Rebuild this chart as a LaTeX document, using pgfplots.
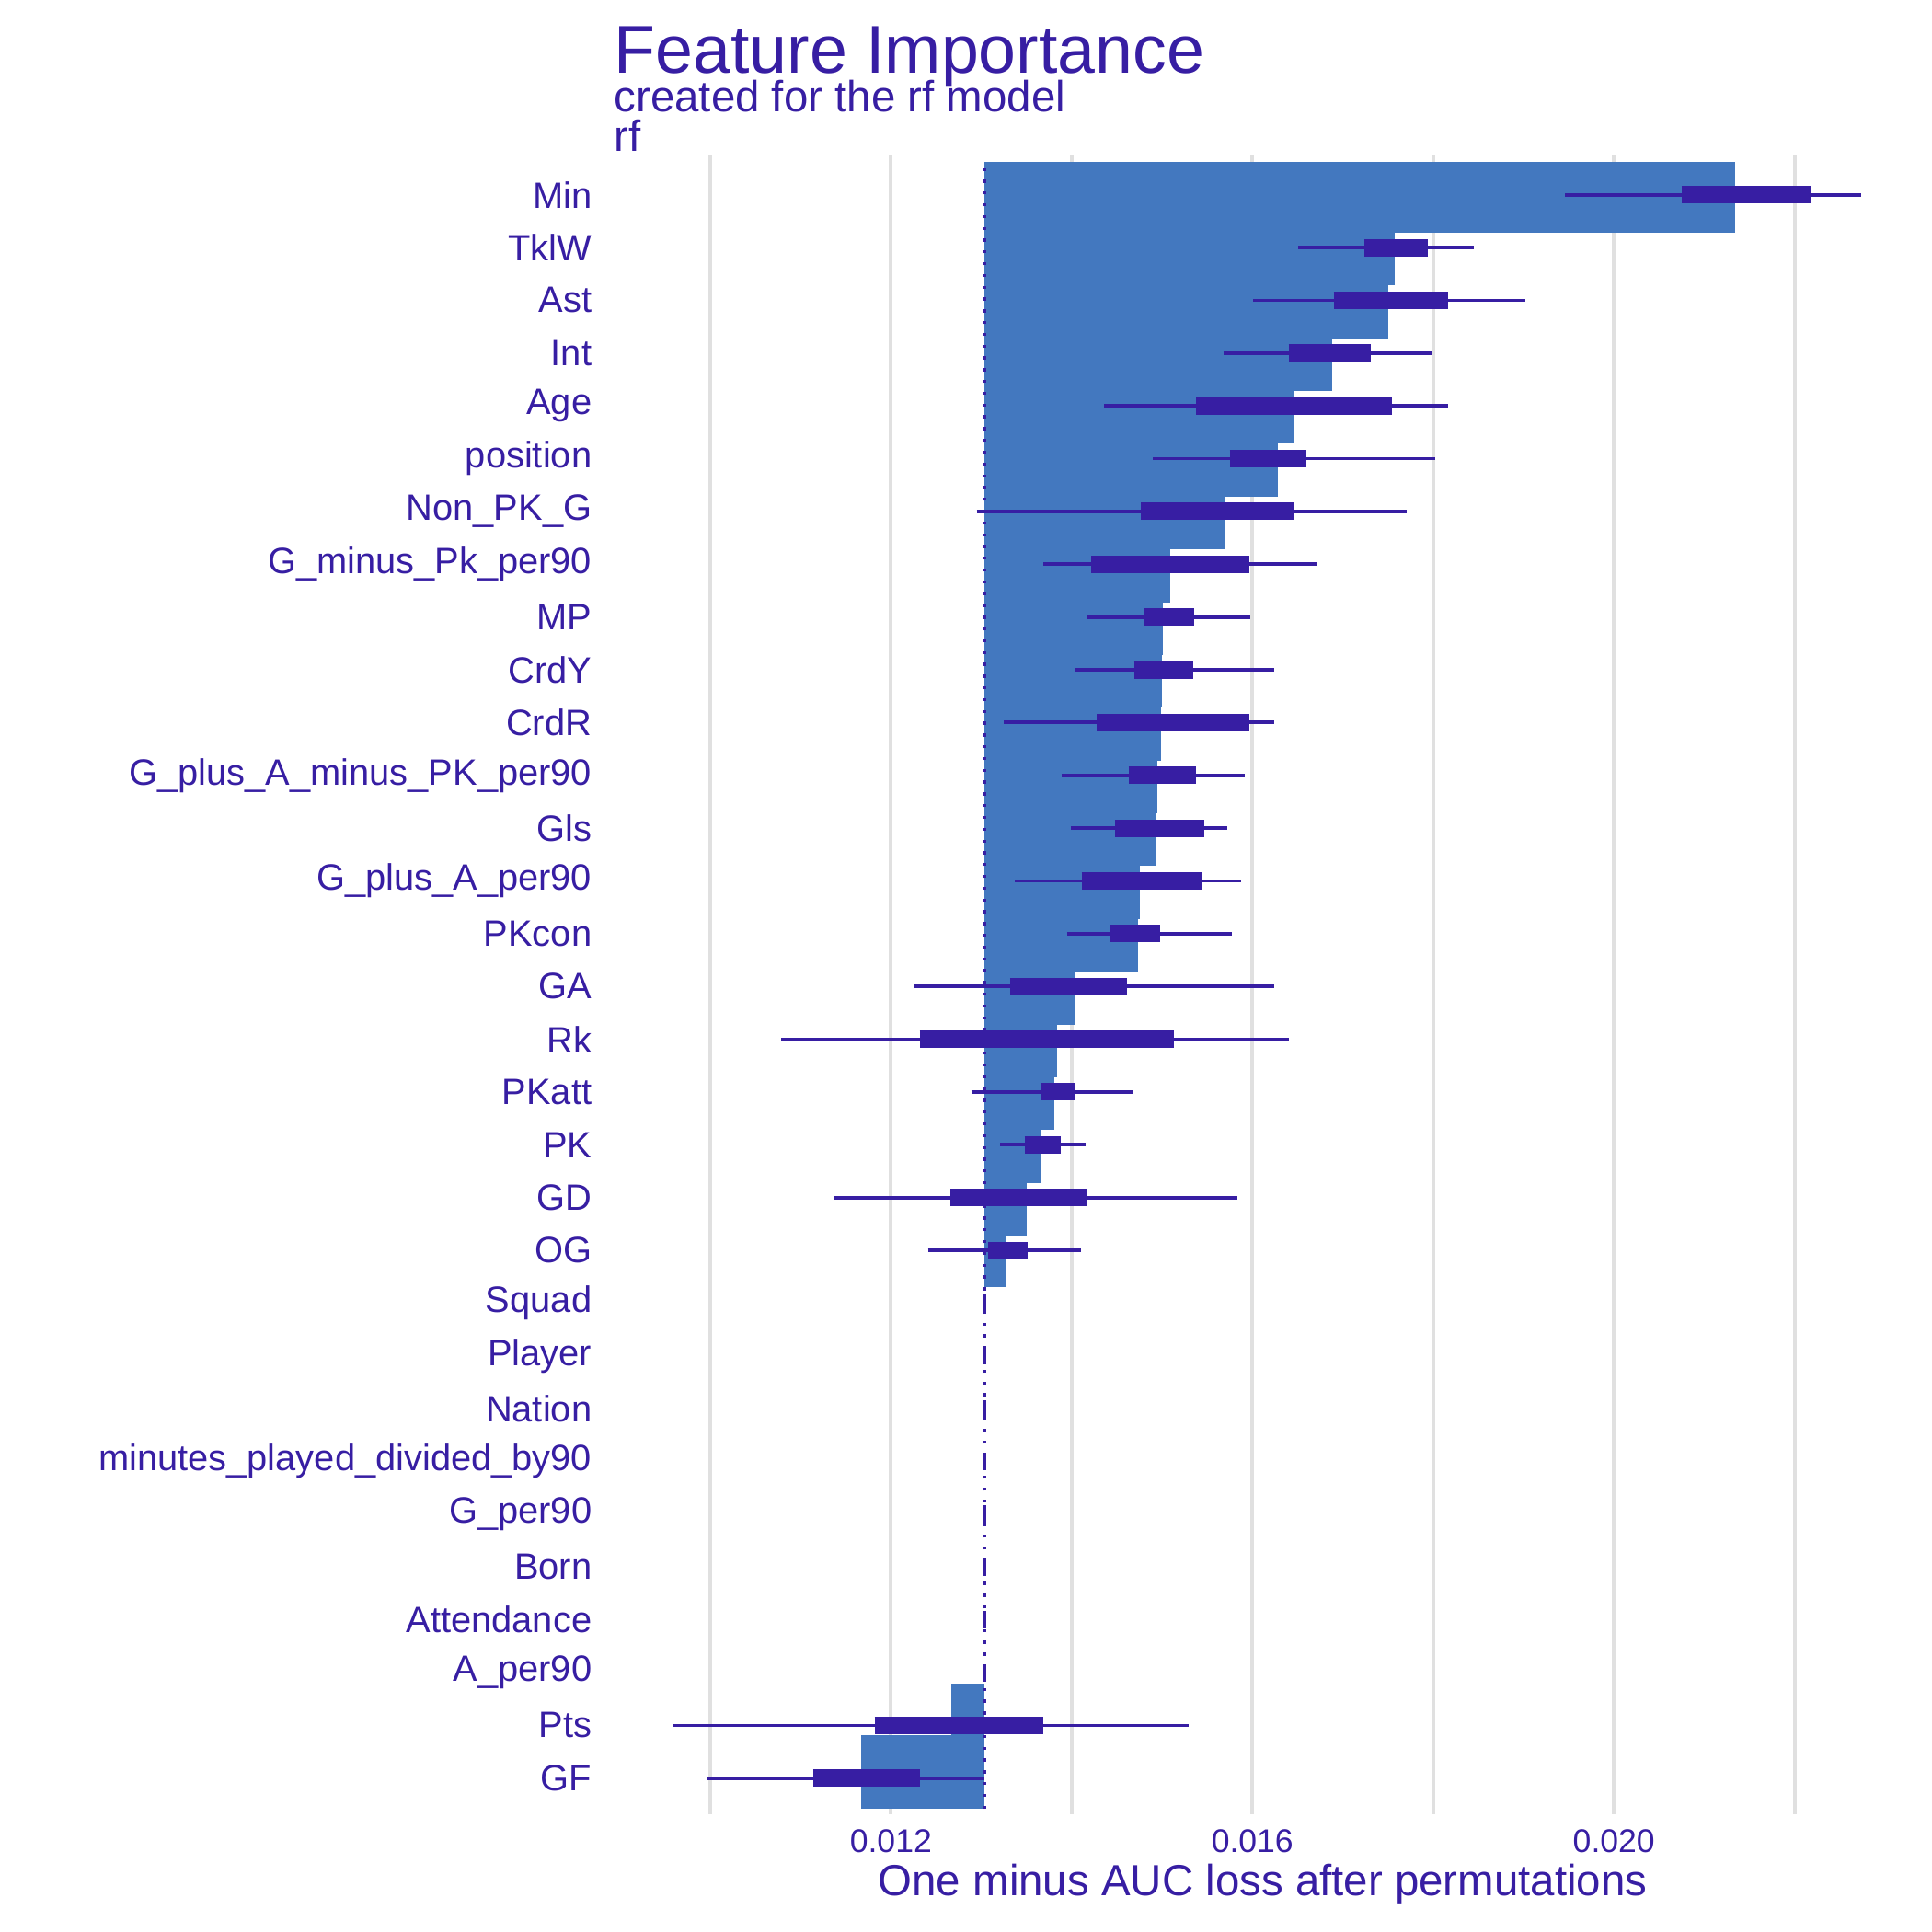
\documentclass[border=0pt]{standalone}
\usepackage{pgfplots}
\pgfplotsset{compat=1.18}
\usepackage{fontspec}
\setmainfont{Liberation Sans}
\definecolor{dtxt}{HTML}{371EA3}
\definecolor{dbar}{HTML}{4378BF}
\newcommand{\base}{0.01304}
\newcommand{\pbar}[3]{\addplot[fill=dbar,draw=none] coordinates {(\base,#2)(#1,#2)(#1,#3)(\base,#3)} -- cycle;}
\newcommand{\bx}[5]{\addplot[dtxt,line width=0.8pt] coordinates {(#2,#1)(#5,#1)};
\addplot[dtxt,line width=4pt] coordinates {(#3,#1)(#4,#1)};}
\begin{document}
\begin{tikzpicture}
\path[use as bounding box] (0,0) rectangle (15.56cm,15.56cm);
\begin{axis}[at={(4.94cm,0.95cm)},anchor=south west,scale only axis,
 width=10.46cm,height=13.36cm,
 xmin=0.00893,xmax=0.02330,ymin=-0.68,ymax=30.75,
 axis line style={draw=none},tick style={draw=none},
 xtick={0.010,0.012,0.014,0.016,0.018,0.020,0.022},
 xticklabels={,0.012,,0.016,,0.020,},
 scaled x ticks=false,
 xmajorgrids,grid style={black!12,line width=0.8pt},
 ytick={0,...,30},
 yticklabels={GF,Pts,A\_per90,Attendance,Born,G\_per90,minutes\_played\_divided\_by90,Nation,Player,Squad,OG,GD,PK,PKatt,Rk,GA,PKcon,G\_plus\_A\_per90,Gls,G\_plus\_A\_minus\_PK\_per90,CrdR,CrdY,MP,G\_minus\_Pk\_per90,Non\_PK\_G,position,Age,Int,Ast,TklW,Min},
 /pgf/number format/assume math mode=true,
 yticklabel style={font=\fontsize{8.4}{9}\selectfont,text=dtxt,xshift=-0.05cm},
 xticklabel style={font=\fontsize{7.5}{9}\selectfont,text=dtxt},
 xlabel={One minus AUC loss after permutations},
 xlabel style={font=\fontsize{10}{12}\selectfont,text=dtxt,yshift=0.15cm},
 clip=false]
\pbar{0.02134}{29.28}{30.63}
\pbar{0.01758}{28.28}{29.28}
\pbar{0.01750}{27.28}{28.28}
\pbar{0.01688}{26.28}{27.28}
\pbar{0.01647}{25.28}{26.28}
\pbar{0.01628}{24.28}{25.28}
\pbar{0.01569}{23.28}{24.28}
\pbar{0.01509}{22.28}{23.28}
\pbar{0.01501}{21.28}{22.28}
\pbar{0.01500}{20.28}{21.28}
\pbar{0.01499}{19.28}{20.28}
\pbar{0.01495}{18.28}{19.28}
\pbar{0.01494}{17.28}{18.28}
\pbar{0.01476}{16.28}{17.28}
\pbar{0.01473}{15.28}{16.28}
\pbar{0.01403}{14.28}{15.28}
\pbar{0.01384}{13.28}{14.28}
\pbar{0.01381}{12.28}{13.28}
\pbar{0.01366}{11.28}{12.28}
\pbar{0.01350}{10.28}{11.28}
\pbar{0.01328}{9.30}{10.28}
\pbar{0.01267}{0.82}{1.79}
\pbar{0.01167}{-0.58}{0.82}
\addplot[dtxt,dotted,line width=0.7pt] coordinates {(\base,-0.58)(\base,30.63)};
\bx{30}{0.01946}{0.02075}{0.02219}{0.02274}
\bx{29}{0.01651}{0.01724}{0.01794}{0.01845}
\bx{28}{0.01601}{0.01690}{0.01817}{0.01902}
\bx{27}{0.01568}{0.01640}{0.01731}{0.01798}
\bx{26}{0.01436}{0.01538}{0.01754}{0.01817}
\bx{25}{0.01490}{0.01575}{0.01660}{0.01802}
\bx{24}{0.01295}{0.01477}{0.01647}{0.01771}
\bx{23}{0.01369}{0.01422}{0.01597}{0.01672}
\bx{22}{0.01417}{0.01481}{0.01536}{0.01598}
\bx{21}{0.01404}{0.01469}{0.01535}{0.01624}
\bx{20}{0.01325}{0.01428}{0.01597}{0.01624}
\bx{19}{0.01389}{0.01463}{0.01538}{0.01592}
\bx{18}{0.01399}{0.01448}{0.01547}{0.01572}
\bx{17}{0.01337}{0.01411}{0.01544}{0.01587}
\bx{16}{0.01395}{0.01443}{0.01498}{0.01577}
\bx{15}{0.01226}{0.01332}{0.01461}{0.01624}
\bx{14}{0.01079}{0.01232}{0.01513}{0.01640}
\bx{13}{0.01289}{0.01366}{0.01403}{0.01468}
\bx{12}{0.01321}{0.01348}{0.01388}{0.01415}
\bx{11}{0.01137}{0.01266}{0.01417}{0.01583}
\bx{10}{0.01241}{0.01308}{0.01351}{0.01410}
\bx{9}{0.01302}{0.01302}{0.01306}{0.01306}
\bx{8}{0.01302}{0.01302}{0.01306}{0.01306}
\bx{7}{0.01302}{0.01302}{0.01306}{0.01306}
\bx{6}{0.01302}{0.01302}{0.01306}{0.01306}
\bx{5}{0.01302}{0.01302}{0.01306}{0.01306}
\bx{4}{0.01302}{0.01302}{0.01306}{0.01306}
\bx{3}{0.01302}{0.01302}{0.01306}{0.01306}
\bx{2}{0.01302}{0.01302}{0.01306}{0.01306}
\bx{1}{0.00959}{0.01182}{0.01369}{0.01529}
\bx{0}{0.00996}{0.01114}{0.01232}{0.01304}
\node[anchor=base west,inner sep=0pt,text=dtxt,font=\fontsize{15.5}{18}\selectfont] at (rel axis cs:0,1) [yshift=0.66cm] {Feature Importance};
\node[anchor=base west,inner sep=0pt,text=dtxt,font=\fontsize{10}{12}\selectfont] at (rel axis cs:0,1) [yshift=0.35cm] {created for the rf model};
\node[anchor=base west,inner sep=0pt,text=dtxt,font=\fontsize{10}{12}\selectfont] at (rel axis cs:0,1) [yshift=0.03cm] {rf};
\end{axis}
\end{tikzpicture}
\end{document}
